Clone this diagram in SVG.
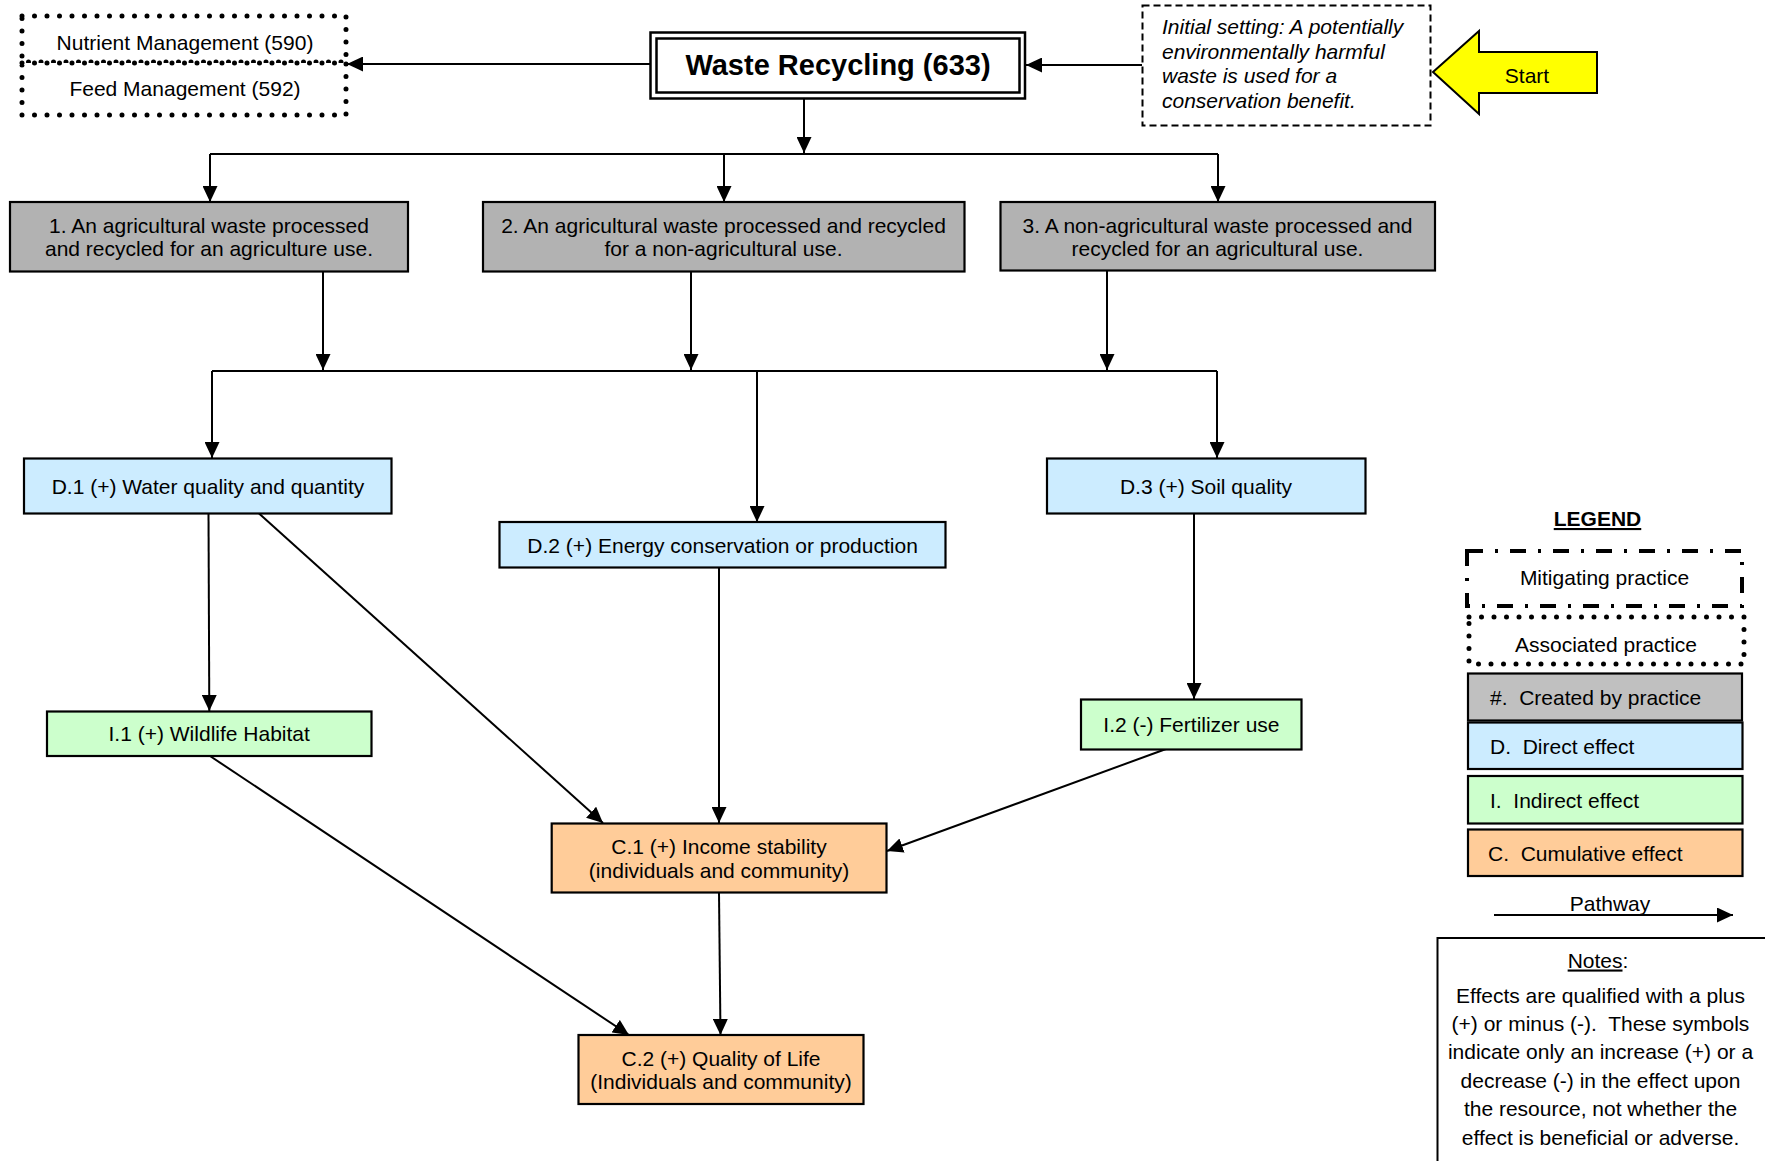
<svg xmlns="http://www.w3.org/2000/svg" width="1765" height="1161" viewBox="0 0 1765 1161">
<style>
text{font-family:"Liberation Sans",Arial,sans-serif;font-size:21px;fill:#000}
.c{text-anchor:middle}
.box{stroke:#000;stroke-width:2.2}
.gray{fill:#b2b2b2}
.blue{fill:#ccecff}
.green{fill:#ccffcc}
.orange{fill:#ffcc99}
.dot{fill:#fff;stroke:#000;stroke-width:5;stroke-dasharray:0 12.5;stroke-linecap:round}
.ln{fill:none;stroke:#000;stroke-width:2}
.arr{fill:none;stroke:#000;stroke-width:2;marker-end:url(#ah)}
</style>
<defs>
<marker id="ah" markerUnits="userSpaceOnUse" markerWidth="17" markerHeight="15" refX="16" refY="7.5" orient="auto">
<path d="M0,0 L16,7.5 L0,15 Z" fill="#000"/>
</marker>
</defs>
<rect width="1765" height="1161" fill="#fff"/>

<g id="connectors">
<path class="arr" d="M650,64 L347,64"/>
<path class="arr" d="M1142,65 L1026,65"/>
<path class="arr" d="M804,99 L804,153"/>
<path class="ln" d="M210,154 L1218,154"/>
<path class="arr" d="M210,154 L210,202"/>
<path class="arr" d="M724,154 L724,202"/>
<path class="arr" d="M1218,154 L1218,202"/>
<path class="arr" d="M323,271 L323,370"/>
<path class="arr" d="M691,271 L691,370"/>
<path class="arr" d="M1107,270 L1107,370"/>
<path class="ln" d="M212,371 L1217,371"/>
<path class="arr" d="M212,371 L212,458"/>
<path class="arr" d="M757,371 L757,522"/>
<path class="arr" d="M1217,371 L1217,458"/>
<path class="arr" d="M208.5,513 L209.3,711"/>
<path class="arr" d="M1194,513 L1194,699"/>
<path class="arr" d="M258.5,513 L603,823"/>
<path class="arr" d="M719,567 L719,823"/>
<path class="arr" d="M1166,749 L887,851"/>
<path class="arr" d="M719,893 L720.5,1035"/>
<path class="arr" d="M210,756 L629,1035"/>
</g>

<g id="associated-practices">
<rect class="dot" x="22" y="16" width="324" height="46"/>
<rect class="dot" x="22" y="63" width="324" height="52"/>
<text class="c" x="185" y="50">Nutrient Management (590)</text>
<text class="c" x="185" y="95.5">Feed Management (592)</text>
</g>

<g id="waste-recycling">
<rect x="650.5" y="32.5" width="374.5" height="66" fill="#fff" stroke="#000" stroke-width="2.5"/>
<rect x="656.5" y="38.5" width="363" height="54" fill="none" stroke="#000" stroke-width="2.5"/>
<text class="c" x="838" y="75" style="font-size:29px;font-weight:bold">Waste Recycling (633)</text>
</g>

<g id="initial-setting">
<rect x="1142.5" y="5.5" width="288" height="120" fill="#fff" stroke="#000" stroke-width="2" stroke-dasharray="7 4"/>
<text x="1162" y="34" font-style="italic">Initial setting: A potentially</text>
<text x="1162" y="58.5" font-style="italic">environmentally harmful</text>
<text x="1162" y="83" font-style="italic">waste is used for a</text>
<text x="1162" y="107.5" font-style="italic">conservation benefit.</text>
</g>

<g id="start">
<path d="M1433,72 L1479,31 L1479,52 L1597,52 L1597,93 L1479,93 L1479,114 Z" fill="#ffff00" stroke="#000" stroke-width="2"/>
<text class="c" x="1527" y="82.5">Start</text>
</g>

<g id="p1">
<rect class="box gray" x="10" y="202" width="398" height="69.5"/>
<text class="c" x="209" y="232.5">1. An agricultural waste processed</text>
<text class="c" x="209" y="256">and recycled for an agriculture use.</text>
</g>
<g id="p2">
<rect class="box gray" x="483" y="202" width="481.5" height="69.5"/>
<text class="c" x="723.5" y="232.5">2. An agricultural waste processed and recycled</text>
<text class="c" x="723.5" y="256">for a non-agricultural use.</text>
</g>
<g id="p3">
<rect class="box gray" x="1000.5" y="202" width="434.5" height="68.5"/>
<text class="c" x="1217.5" y="232.5">3. A non-agricultural waste processed and</text>
<text class="c" x="1217.5" y="256">recycled for an agricultural use.</text>
</g>

<g id="d1">
<rect class="box blue" x="24" y="458.5" width="367.5" height="55"/>
<text class="c" x="208" y="493.5">D.1 (+) Water quality and quantity</text>
</g>
<g id="d2">
<rect class="box blue" x="499.5" y="522" width="446" height="45.5"/>
<text class="c" x="722.6" y="552.5">D.2 (+) Energy conservation or production</text>
</g>
<g id="d3">
<rect class="box blue" x="1047" y="458.5" width="318.5" height="55"/>
<text class="c" x="1206" y="493.5">D.3 (+) Soil quality</text>
</g>

<g id="i1">
<rect class="box green" x="47" y="711.5" width="324.5" height="44.5"/>
<text class="c" x="209.2" y="741">I.1 (+) Wildlife Habitat</text>
</g>
<g id="i2">
<rect class="box green" x="1081" y="699.5" width="220.5" height="50"/>
<text class="c" x="1191.4" y="732">I.2 (-) Fertilizer use</text>
</g>

<g id="c1">
<rect class="box orange" x="551.7" y="823.5" width="334.8" height="69"/>
<text class="c" x="719" y="854">C.1 (+) Income stability</text>
<text class="c" x="719" y="878">(individuals and community)</text>
</g>
<g id="c2">
<rect class="box orange" x="578.5" y="1035" width="285" height="69"/>
<text class="c" x="721" y="1065.5">C.2 (+) Quality of Life</text>
<text class="c" x="721" y="1089">(Individuals and community)</text>
</g>

<g id="legend">
<text class="c" x="1597.5" y="526" style="font-weight:bold;text-decoration:underline">LEGEND</text>
<rect x="1467" y="551" width="275" height="55" fill="#fff" stroke="#000" stroke-width="4" stroke-dasharray="16 12 3 12"/>
<text class="c" x="1604.5" y="585">Mitigating practice</text>
<rect class="dot" x="1469" y="617" width="275" height="47"/>
<text class="c" x="1606" y="651.5">Associated practice</text>
<rect class="box" x="1468" y="673.5" width="274" height="47" fill="#c0c0c0"/>
<text x="1490" y="705" xml:space="preserve">#.  Created by practice</text>
<rect class="box blue" x="1468" y="722.5" width="274.5" height="46.5"/>
<text x="1490" y="753.5" xml:space="preserve">D.  Direct effect</text>
<rect class="box green" x="1468" y="776" width="274.5" height="47.5"/>
<text x="1490" y="807.5" xml:space="preserve">I.  Indirect effect</text>
<rect class="box orange" x="1468" y="829.5" width="274.5" height="46.5"/>
<text x="1488" y="860.5" xml:space="preserve">C.  Cumulative effect</text>
<text class="c" x="1610" y="911">Pathway</text>
<path class="arr" d="M1494,915 L1733,915"/>
</g>

<g id="notes">
<rect x="1437.5" y="938" width="340" height="240" fill="#fff" stroke="#000" stroke-width="2"/>
<text class="c" x="1598" y="967.5"><tspan style="text-decoration:underline">Notes</tspan>:</text>
<text class="c" x="1600.5" y="1002.5">Effects are qualified with a plus</text>
<text class="c" x="1600.5" y="1030.5" xml:space="preserve">(+) or minus (-).  These symbols</text>
<text class="c" x="1600.5" y="1059">indicate only an increase (+) or a</text>
<text class="c" x="1600.5" y="1087.5">decrease (-) in the effect upon</text>
<text class="c" x="1600.5" y="1115.5">the resource, not whether the</text>
<text class="c" x="1600.5" y="1144.5">effect is beneficial or adverse.</text>
</g>
</svg>
